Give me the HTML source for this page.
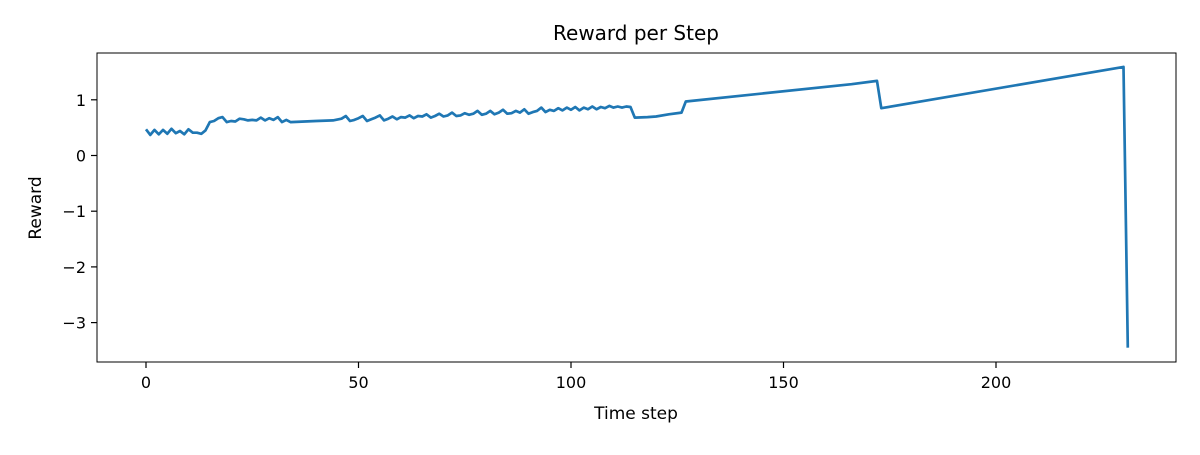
<!DOCTYPE html>
<html><head><meta charset="utf-8"><style>
html,body{margin:0;padding:0;background:#fff;}
svg text{font-family:"DejaVu Sans","Liberation Sans",sans-serif;fill:#000;}
</style></head><body>
<svg id="chart" width="1200" height="450" xmlns="http://www.w3.org/2000/svg">
<rect width="1200" height="450" fill="#fff"/>
<text x="636" y="40" font-size="20" text-anchor="middle">Reward per Step</text>
<text x="636" y="419" font-size="17" text-anchor="middle">Time step</text>
<text transform="translate(41,208) rotate(-90)" font-size="17" text-anchor="middle">Reward</text>
<g id="ticks"></g>
<path id="line" fill="none" stroke="#1f77b4" stroke-width="2.7" stroke-linejoin="round"/>
<rect x="97" y="53" width="1079" height="309" fill="none" stroke="#000" stroke-width="1"/>
</svg>
<script>
const xTicks=[0,50,100,150,200];
const yTicks=[1,0,-1,-2,-3];
const yTickLabels=["1","0","\u22121","\u22122","\u22123"];
const steps=[0,1,2,3,4,5,6,7,8,9,10,11,12,13,14,15,16,17,18,19,20,21,22,23,24,25,26,27,28,29,30,31,32,33,34,40,44,46,47,48,49,50,51,52,53,54,55,56,57,58,59,60,61,62,63,64,65,66,67,68,69,70,71,72,73,74,75,76,77,78,79,80,81,82,83,84,85,86,87,88,89,90,91,92,93,94,95,96,97,98,99,100,101,102,103,104,105,106,107,108,109,110,111,112,113,114,115,118,120,123,126,127,166,172,173,230,231];
const rewards=[0.47,0.37,0.46,0.38,0.46,0.39,0.48,0.40,0.44,0.38,0.47,0.41,0.41,0.39,0.45,0.60,0.62,0.67,0.69,0.60,0.62,0.61,0.66,0.65,0.63,0.64,0.63,0.68,0.63,0.67,0.64,0.69,0.60,0.64,0.60,0.62,0.63,0.66,0.71,0.62,0.64,0.67,0.71,0.62,0.65,0.68,0.72,0.63,0.66,0.70,0.65,0.69,0.68,0.72,0.67,0.71,0.70,0.74,0.68,0.71,0.75,0.70,0.72,0.77,0.71,0.72,0.76,0.73,0.75,0.80,0.73,0.75,0.80,0.74,0.77,0.82,0.75,0.76,0.80,0.77,0.83,0.75,0.78,0.80,0.86,0.78,0.82,0.80,0.85,0.81,0.86,0.82,0.87,0.81,0.86,0.83,0.88,0.83,0.87,0.85,0.89,0.86,0.88,0.86,0.88,0.87,0.68,0.69,0.70,0.74,0.77,0.97,1.28,1.34,0.85,1.59,-3.45];
const xS=v=>146+v*4.25;
const yS=v=>155.5-v*55.7;
const NS="http://www.w3.org/2000/svg";
const g=document.getElementById('ticks');
function add(tag,attrs,text){const e=document.createElementNS(NS,tag);for(const k in attrs)e.setAttribute(k,attrs[k]);if(text!==undefined)e.textContent=text;g.appendChild(e);return e;}
xTicks.forEach(t=>{
  const l=add('line',{x1:xS(t),x2:xS(t),y1:362,y2:368,stroke:'#000','stroke-width':1.2});
  
  
  const tx=add('text',{x:xS(t),y:388,'font-size':16,'text-anchor':'middle'},String(t));
  
  
});
yTicks.forEach((t,i)=>{
  const l=add('line',{x1:91,x2:97,y1:yS(t),y2:yS(t),stroke:'#000','stroke-width':1.2});
  
  
  const tx=add('text',{x:86,y:yS(t)+6,'font-size':16,'text-anchor':'end'},yTickLabels[i]);
  
  
});
document.getElementById('line').setAttribute('d',steps.map((s,i)=>(i?'L':'M')+xS(s).toFixed(1)+','+yS(rewards[i]).toFixed(1)).join(''));
</script>
</body></html>
